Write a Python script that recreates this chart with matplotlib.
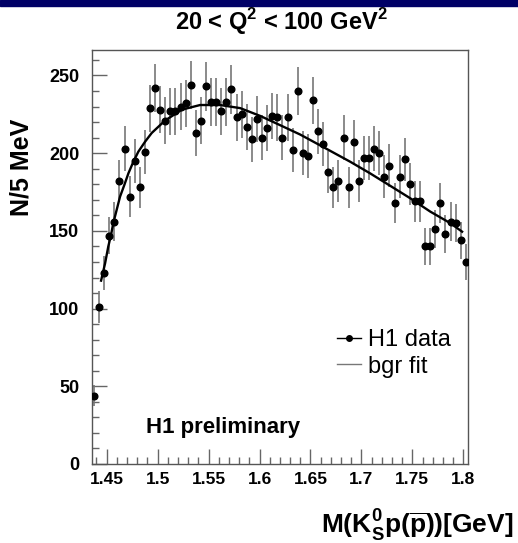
import matplotlib
matplotlib.use('Agg')
import matplotlib.pyplot as plt
import numpy as np
from matplotlib.lines import Line2D
from matplotlib.patches import Rectangle
from matplotlib.ticker import MultipleLocator

plt.rcParams['font.family'] = ['Liberation Sans', 'DejaVu Sans']
plt.rcParams['mathtext.fontset'] = 'custom'
plt.rcParams['mathtext.rm'] = 'Liberation Sans'
plt.rcParams['mathtext.bf'] = 'Liberation Sans:bold'

# --- data: K0s p(pbar) invariant mass, 5 MeV bins --- #
mass = np.round(1.4375 + 0.005 * np.arange(74), 4)
counts = np.array([
    44, 101, 123, 147, 156, 182, 203, 172, 195, 178,
    201, 229, 242, 228, 221, 227, 227, 230, 232, 244,
    213, 221, 243, 233, 233, 227, 233, 241, 223, 225,
    217, 209, 222, 210, 216, 224, 223, 210, 223, 202,
    240, 200, 198, 234, 214, 206, 188, 178, 182, 210,
    178, 207, 182, 197, 197, 203, 200, 185, 192, 168,
    185, 196, 180, 169, 169, 140, 140, 151, 168, 148,
    156, 155, 144, 130])
errors = np.sqrt(counts)  # Poisson errors

# background fit
fit_mass = [1.4445, 1.4484, 1.4516, 1.4543, 1.4565, 1.4631, 1.4673, 1.4713,
            1.4762, 1.4811, 1.4877, 1.4942, 1.5007, 1.5073, 1.5237, 1.5417,
            1.5613, 1.5810, 1.6006, 1.6203, 1.6399, 1.6596, 1.6890, 1.7086,
            1.7283, 1.7479, 1.7676, 1.7872, 1.7988]
fit_counts = [118, 129, 140, 147.5, 155, 172, 179.5, 187,
              194.5, 201, 207.4, 213, 217, 221, 228, 231,
              231, 229, 224, 218, 212, 205, 194.5, 187,
              179, 171, 162.4, 155, 149.5]

W, H = 518, 543
fig = plt.figure(figsize=(W / 100, H / 100), dpi=100)
ax = fig.add_axes([92 / W, 1 - 464 / H, (468 - 92) / W, (464 - 50) / H])

# navy banner on top
fig.patches.append(Rectangle((0, 1 - 6 / H), 1, 6 / H, transform=fig.transFigure,
                             color='#000066', zorder=0))

ax.errorbar(mass, counts, yerr=errors, fmt='none', ecolor='#777777',
            elinewidth=1.2, capsize=0, zorder=2)
ax.plot(mass, counts, 'o', color='black', markersize=4.8, zorder=3)
ax.plot(fit_mass, fit_counts, '-', color='black', linewidth=1.7, zorder=4)

ax.set_xlim(1.4356, 1.8046)
ax.set_ylim(0, 266.4)

ax.xaxis.set_major_locator(MultipleLocator(0.05))
ax.xaxis.set_minor_locator(MultipleLocator(0.01))
ax.yaxis.set_major_locator(MultipleLocator(50))
ax.yaxis.set_minor_locator(MultipleLocator(10))
ax.set_xticks([1.45, 1.5, 1.55, 1.6, 1.65, 1.7, 1.75, 1.8])
ax.set_xticklabels(['1.45', '1.5', '1.55', '1.6', '1.65', '1.7', '1.75', '1.8'])
ax.tick_params(which='both', direction='in', top=False, right=False, color='#666666')
ax.tick_params(which='major', length=11, width=1)
ax.tick_params(which='minor', length=5, width=1)
ax.tick_params(axis='x', which='major', pad=6)
ax.tick_params(axis='y', which='major', pad=9)
for lab in ax.get_xticklabels():
    lab.set_fontsize(12.5)
    lab.set_fontweight('bold')
for lab in ax.get_yticklabels():
    lab.set_fontsize(13)
    lab.set_fontweight('bold')
for sp in ax.spines.values():
    sp.set_color('#555555')
    sp.set_linewidth(1)

# texts
fig.text(281 / W, 1 - 22 / H, r'20 < Q$^{\mathbf{2}}$ < 100 GeV$^{\mathbf{2}}$',
         ha='center', va='center', fontsize=17, fontweight='bold')
fig.text(22 / W, 1 - 167 / H, 'N/5 MeV', rotation=90, ha='center', va='center',
         fontsize=18, fontweight='bold')
fig.text(514 / W, 1 - 525 / H,
         r'M(K$_{\mathbf{S}}^{\mathbf{0}}$p($\mathbf{\overline{p}}$))[GeV]',
         ha='right', va='center', fontsize=19, fontweight='bold')
fig.text(146 / W, 1 - 428 / H, 'H1 preliminary', ha='left', va='center',
         fontsize=16, fontweight='bold')

handles = [Line2D([], [], color='black', marker='o', markersize=4, linewidth=1),
           Line2D([], [], color='#777777', linewidth=1)]
ax.legend(handles, ['H1 data', 'bgr fit'], loc='upper left',
          bbox_to_anchor=(337 / W, 1 - 329 / H), bbox_transform=fig.transFigure,
          frameon=False, fontsize=17, handlelength=1.0, handletextpad=0.3,
          labelspacing=0.2, borderpad=0, borderaxespad=0)

fig.savefig('out.png', dpi=100)
